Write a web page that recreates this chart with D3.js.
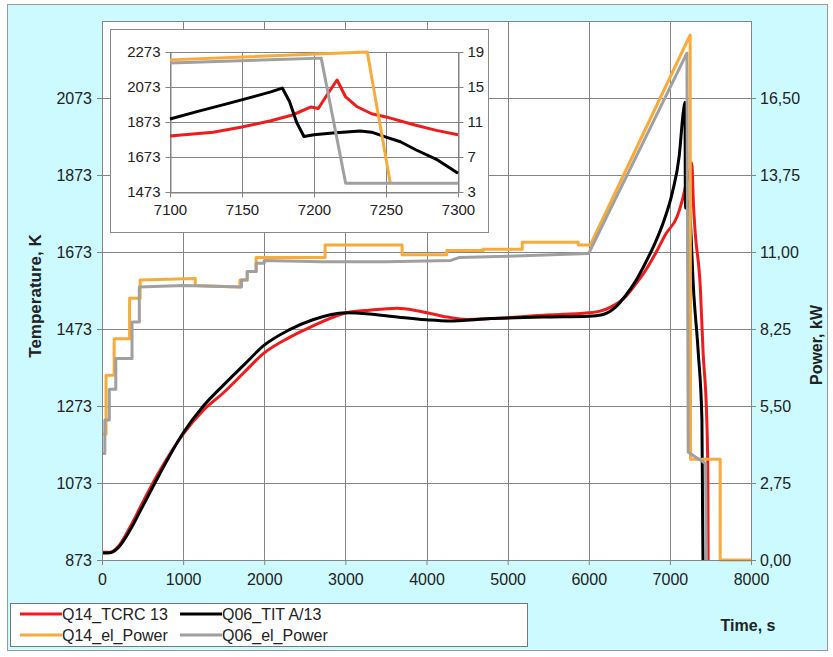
<!DOCTYPE html>
<meta charset="utf-8">
<head>
<script src="https://cdn.jsdelivr.net/npm/d3@7"></script>
<style>
	body { margin: 0; background: #fff; }
	text { font-family: Arial, "Liberation Sans", sans-serif; fill: #222; }
</style>
</head>
<body>
<div id="svg-container"></div>
<script>

////////////////////////////////////
// DATA
////////////////////////////////////

const timeTicks = [0, 1000, 2000, 3000, 4000, 5000, 6000, 7000, 8000]
const tempTicks = [873, 1073, 1273, 1473, 1673, 1873, 2073]
const powerTicks = [0, 2.75, 5.5, 8.25, 11, 13.75, 16.5]

const insetTimeTicks = [7100, 7150, 7200, 7250, 7300]
const insetTempTicks = [1473, 1673, 1873, 2073, 2273]
const insetPowerTicks = [3, 7, 11, 15, 19]

const seriesNames = ['Q14_TCRC 13', 'Q06_TIT A/13', 'Q14_el_Power', 'Q06_el_Power']

// [time s, temperature K]
const q14Tcrc = [[0, 893], [100, 893], [200, 908], [350, 960], [500, 1022], [700, 1100], [1000, 1200],
	[1250, 1262], [1500, 1308], [1750, 1360], [2000, 1411], [2300, 1450], [2570, 1478], [3020, 1515],
	[3300, 1522], [3640, 1527], [3900, 1520], [4260, 1504], [4500, 1498], [4790, 1500], [5440, 1509],
	[6000, 1515], [6150, 1520], [6270, 1530], [6450, 1556], [6580, 1590], [6700, 1625], [6825, 1670],
	[6950, 1720], [7090, 1765], [7150, 1805], [7213, 1860], [7250, 1885], [7270, 1904], [7290, 1800],
	[7310, 1730], [7375, 1582], [7410, 1411], [7455, 1237], [7468, 1100], [7472, 873]]

const q06Tit = [[0, 891], [100, 892], [200, 905], [350, 952], [500, 1012], [700, 1092], [1000, 1203],
	[1250, 1273], [1500, 1328], [1750, 1380], [2000, 1431], [2300, 1470], [2600, 1497], [3000, 1515],
	[3300, 1512], [3640, 1504], [4000, 1497], [4260, 1494], [4800, 1500], [5440, 1504], [6000, 1506],
	[6165, 1510], [6330, 1530], [6455, 1560], [6580, 1598], [6700, 1645], [6825, 1700], [6930, 1756],
	[7033, 1830], [7116, 1924], [7165, 2036], [7186, 2062], [7192, 1787], [7230, 1805], [7250, 1760],
	[7290, 1582], [7350, 1411], [7395, 1237], [7403, 1000], [7408, 873]]

// [time s, power kW]
const q14Power = [[0, 4.5], [50, 4.5], [50, 6.6], [150, 6.6], [150, 7.9], [340, 7.9], [340, 9.35],
	[470, 9.35], [470, 10.0], [1150, 10.05], [1150, 9.8], [1700, 9.75], [1700, 10.0], [1790, 10.0],
	[1790, 10.3], [1900, 10.3], [1900, 10.8], [2750, 10.8], [2750, 11.25], [3700, 11.25], [3700, 10.9],
	[4250, 10.9], [4250, 11.05], [4700, 11.05], [4700, 11.1], [5180, 11.1], [5180, 11.35], [5870, 11.35],
	[5870, 11.25], [6020, 11.25], [7250, 18.75], [7255, 3.6], [7620, 3.6], [7620, 0], [8000, 0]]

const q06Power = [[0, 3.8], [35, 3.8], [35, 5.0], [90, 5.0], [90, 6.1], [170, 6.1], [170, 7.2],
	[370, 7.2], [370, 8.5], [460, 8.5], [460, 9.75], [1000, 9.8], [1720, 9.75], [1720, 10.0], [1790, 10.0],
	[1790, 10.3], [1900, 10.3], [1900, 10.6], [2000, 10.6], [2000, 10.7], [2700, 10.65], [3500, 10.65],
	[4300, 10.7], [4400, 10.8], [5000, 10.85], [6000, 10.95], [7210, 18.1], [7226, 3.85], [7440, 3.45],
	[7450, 0]]

// inset (zoom on 7100-7300 s)
const insetTcrc = [[7100, 1793], [7130, 1815], [7150, 1844], [7170, 1880], [7185, 1913], [7198, 1959],
	[7203, 1950], [7209, 2027], [7216, 2113], [7222, 2016], [7230, 1960], [7240, 1920], [7250, 1902],
	[7270, 1856], [7285, 1825], [7300, 1800]]

const insetTit = [[7100, 1890], [7120, 1935], [7140, 1978], [7160, 2022], [7170, 2045], [7178, 2067],
	[7183, 1990], [7188, 1870], [7193, 1790], [7200, 1800], [7213, 1810], [7232, 1822], [7240, 1815],
	[7250, 1787], [7260, 1760], [7271, 1713], [7285, 1660], [7300, 1580]]

const insetQ14Power = [[7100, 18.1], [7237, 19.0], [7253, 4.0]]
const insetQ06Power = [[7100, 17.75], [7205, 18.3], [7222, 4.0], [7300, 4.0]]

////////////////////////////////////
// SETUP
////////////////////////////////////

const W = 833, H = 657
const plot = {left: 102, right: 751, top: 21, bottom: 560}
const ins = {left: 170, right: 458, top: 52, bottom: 192}

const colors = {red: '#ee1c1c', black: '#000000', orange: '#f8aa3a', gray: '#a0a0a0'}
const seriesColors = [colors.red, colors.black, colors.orange, colors.gray]
const gridColor = '#848484'

const svg = d3.select('#svg-container').append('svg')
	.attr('width', W)
	.attr('height', H)

// outer chart area
svg.append('rect')
	.attr('x', 7.5).attr('y', 4.5)
	.attr('width', 820).attr('height', 646)
	.attr('fill', '#ccfafe')
	.attr('stroke', '#9a9a9a')

const x = d3.scaleLinear().domain([0, 8000]).range([plot.left, plot.right])
const yT = d3.scaleLinear().domain([873, 2273]).range([plot.bottom, plot.top])
const yP = d3.scaleLinear().domain([0, 19.25]).range([plot.bottom, plot.top])

const commaFmt = d => d3.format('.2f')(d).replace('.', ',')
const intFmt = d3.format('d')

////////////////////////////////////
// MAIN PLOT
////////////////////////////////////

svg.append('rect')
	.attr('x', plot.left).attr('y', plot.top)
	.attr('width', plot.right - plot.left).attr('height', plot.bottom - plot.top)
	.attr('fill', '#fff')

// grid
const grid = svg.append('g').attr('class', 'grid')
grid.selectAll('.vg')
	.data(timeTicks)
	.enter().append('line')
	.attr('x1', d => Math.round(x(d)) + 0.5).attr('x2', d => Math.round(x(d)) + 0.5)
	.attr('y1', plot.top).attr('y2', plot.bottom)
	.attr('stroke', gridColor)
grid.selectAll('.hg')
	.data(tempTicks.concat([2273]))
	.enter().append('line')
	.attr('x1', plot.left).attr('x2', plot.right)
	.attr('y1', d => Math.round(yT(d)) + 0.5).attr('y2', d => Math.round(yT(d)) + 0.5)
	.attr('stroke', gridColor)

function styleAxis(g, size) {
	g.select('.domain').attr('stroke', gridColor)
	g.selectAll('.tick line').attr('stroke', gridColor)
	g.selectAll('.tick text')
		.attr('fill', '#222')
		.style('font-size', size + 'px')
		.style('font-family', 'Arial, "Liberation Sans", sans-serif')
}

svg.append('g')
	.attr('transform', `translate(${plot.left},0)`)
	.call(d3.axisLeft(yT).tickValues(tempTicks).tickFormat(intFmt).tickSize(5).tickPadding(5).tickSizeOuter(0))
	.call(g => styleAxis(g, 16))

svg.append('g')
	.attr('transform', `translate(${plot.right},0)`)
	.call(d3.axisRight(yP).tickValues(powerTicks).tickFormat(commaFmt).tickSize(5).tickPadding(4).tickSizeOuter(0))
	.call(g => styleAxis(g, 16))

svg.append('g')
	.attr('transform', `translate(0,${plot.bottom})`)
	.call(d3.axisBottom(x).tickValues(timeTicks).tickFormat(intFmt).tickSize(5).tickPadding(9).tickSizeOuter(0))
	.call(g => styleAxis(g, 16))

// lines
const tempLine = d3.line().x(d => x(d[0])).y(d => yT(d[1])).curve(d3.curveMonotoneX)
const powLine = d3.line().x(d => x(d[0])).y(d => yP(d[1]))

const mainLines = [
	{data: q14Tcrc, gen: tempLine, color: colors.red},
	{data: q06Tit, gen: tempLine, color: colors.black},
	{data: q14Power, gen: powLine, color: colors.orange},
	{data: q06Power, gen: powLine, color: colors.gray}
]

svg.append('g').selectAll('path')
	.data(mainLines)
	.enter().append('path')
	.attr('d', d => d.gen(d.data))
	.attr('fill', 'none')
	.attr('stroke', d => d.color)
	.attr('stroke-width', 3)
	.attr('stroke-linejoin', 'round')

// frame
svg.append('rect')
	.attr('x', plot.left + 0.5).attr('y', plot.top + 0.5)
	.attr('width', plot.right - plot.left).attr('height', plot.bottom - plot.top)
	.attr('fill', 'none')
	.attr('stroke', gridColor)

////////////////////////////////////
// INSET
////////////////////////////////////

const ix = d3.scaleLinear().domain([7100, 7300]).range([ins.left, ins.right])
const iyT = d3.scaleLinear().domain([1473, 2273]).range([ins.bottom, ins.top])
const iyP = d3.scaleLinear().domain([3, 19]).range([ins.bottom, ins.top])

svg.append('rect')
	.attr('x', 110.5).attr('y', 29.5)
	.attr('width', 378).attr('height', 203)
	.attr('fill', '#fff')
	.attr('stroke', '#8a8a8a')

const igrid = svg.append('g')
igrid.selectAll('.vg')
	.data(insetTimeTicks)
	.enter().append('line')
	.attr('x1', d => Math.round(ix(d)) + 0.5).attr('x2', d => Math.round(ix(d)) + 0.5)
	.attr('y1', ins.top).attr('y2', ins.bottom)
	.attr('stroke', gridColor)
igrid.selectAll('.hg')
	.data(insetTempTicks)
	.enter().append('line')
	.attr('x1', ins.left).attr('x2', ins.right)
	.attr('y1', d => Math.round(iyT(d)) + 0.5).attr('y2', d => Math.round(iyT(d)) + 0.5)
	.attr('stroke', gridColor)

svg.append('g')
	.attr('transform', `translate(${ins.left + 0.5},0)`)
	.call(d3.axisLeft(iyT).tickValues(insetTempTicks).tickFormat(intFmt).tickSize(5).tickPadding(5).tickSizeOuter(0))
	.call(g => styleAxis(g, 15))

svg.append('g')
	.attr('transform', `translate(${ins.right + 0.5},0)`)
	.call(d3.axisRight(iyP).tickValues(insetPowerTicks).tickFormat(intFmt).tickSize(5).tickPadding(4).tickSizeOuter(0))
	.call(g => styleAxis(g, 15))

svg.append('g')
	.attr('transform', `translate(0,${ins.bottom + 0.5})`)
	.call(d3.axisBottom(ix).tickValues(insetTimeTicks).tickFormat(intFmt).tickSize(5).tickPadding(7).tickSizeOuter(0))
	.call(g => styleAxis(g, 15))

const iTempLine = d3.line().x(d => ix(d[0])).y(d => iyT(d[1]))
const iPowLine = d3.line().x(d => ix(d[0])).y(d => iyP(d[1]))

const insetLines = [
	{data: insetTcrc, gen: iTempLine, color: colors.red},
	{data: insetTit, gen: iTempLine, color: colors.black},
	{data: insetQ14Power, gen: iPowLine, color: colors.orange},
	{data: insetQ06Power, gen: iPowLine, color: colors.gray}
]

svg.append('g').selectAll('path')
	.data(insetLines)
	.enter().append('path')
	.attr('d', d => d.gen(d.data))
	.attr('fill', 'none')
	.attr('stroke', d => d.color)
	.attr('stroke-width', 3)
	.attr('stroke-linejoin', 'round')

////////////////////////////////////
// TITLES + LEGEND
////////////////////////////////////

svg.append('text')
	.attr('transform', 'translate(41,296) rotate(-90)')
	.attr('text-anchor', 'middle')
	.style('font-size', '17px').style('font-weight', 'bold')
	.text('Temperature, K')

svg.append('text')
	.attr('transform', 'translate(822,345) rotate(-90)')
	.attr('text-anchor', 'middle')
	.style('font-size', '16px').style('font-weight', 'bold')
	.text('Power, kW')

svg.append('text')
	.attr('x', 748).attr('y', 631)
	.attr('text-anchor', 'middle')
	.style('font-size', '16px').style('font-weight', 'bold')
	.text('Time, s')

const legend = svg.append('g')
legend.append('rect')
	.attr('x', 10.5).attr('y', 603.5)
	.attr('width', 517).attr('height', 43)
	.attr('fill', '#fff')
	.attr('stroke', '#777')

const legendItems = legend.selectAll('.item')
	.data(seriesNames)
	.enter().append('g')
	.attr('transform', (d, i) => `translate(${i % 2 === 0 ? 20 : 180},${i < 2 ? 614 : 635})`)

legendItems.append('line')
	.attr('x1', 0).attr('x2', 42)
	.attr('stroke', (d, i) => seriesColors[i])
	.attr('stroke-width', 3)

legendItems.append('text')
	.attr('x', 42).attr('y', 6)
	.style('font-size', '16px')
	.text(d => d)

</script>
</body>
